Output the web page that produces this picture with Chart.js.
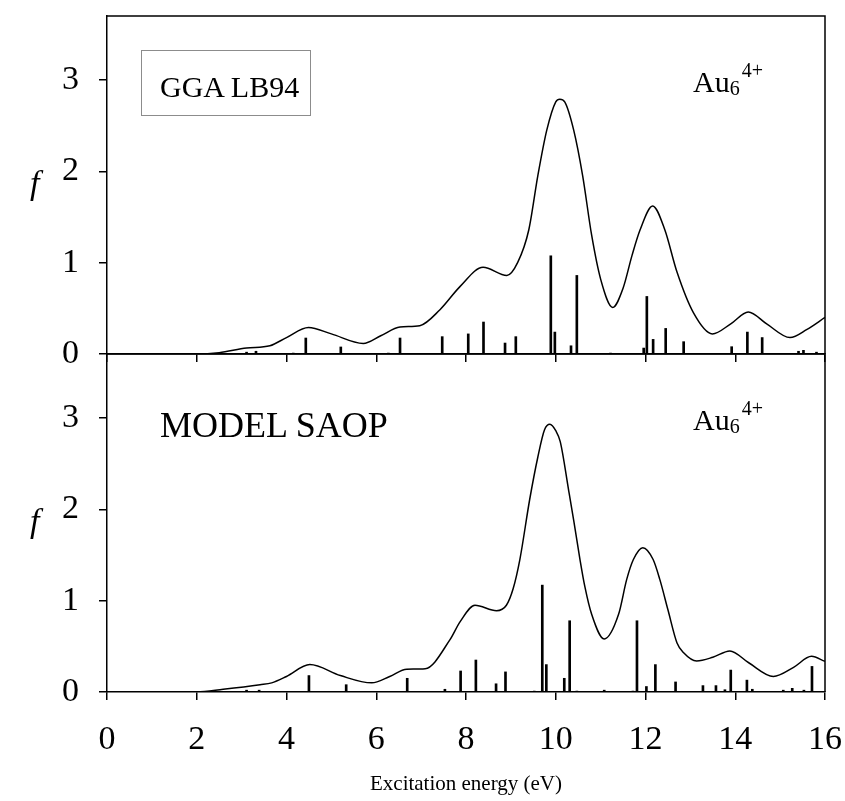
<!DOCTYPE html>
<html>
<head>
<meta charset="utf-8">
<script src="https://cdn.jsdelivr.net/npm/chart.js@4.4.0/dist/chart.umd.min.js"></script>
<style>
body { margin: 0; background: #fff; }
#wrap { position: relative; width: 845px; height: 801px; font-family: "Liberation Serif", "Times New Roman", serif; color: #000; }
canvas { position: absolute; left: 0; top: 0; }
.lbl { position: absolute; white-space: nowrap; line-height: 1; }
.box { position: absolute; border: 1px solid #8c8c8c; }
.fy { font-style: italic; font-size: 34px; }
.au { font-size: 30px; }
.au .sub { font-size: 20px; position: relative; top: 3px; }
.au .sup { font-size: 20px; position: relative; top: -15px; margin-left: 2px; }
</style>
</head>
<body>
<div id="wrap">
  <canvas id="botChart" width="845" height="801"></canvas>
  <canvas id="topChart" width="845" height="372"></canvas>

  <div class="box" style="left:141px; top:50px; width:168px; height:64px;"></div>
  <div class="lbl" style="left:160px; top:72px; font-size:30px;">GGA LB94</div>
  <div class="lbl au" style="left:693px; top:67px;">Au<span class="sub">6</span><span class="sup">4+</span></div>
  <div class="lbl fy" style="left:30px; top:166px;">f</div>

  <div class="lbl" style="left:160px; top:407px; font-size:36px;">MODEL SAOP</div>
  <div class="lbl au" style="left:693px; top:405px;">Au<span class="sub">6</span><span class="sup">4+</span></div>
  <div class="lbl fy" style="left:30px; top:504px;">f</div>
</div>

<script>
// tick labels
const xTicks = [0, 2, 4, 6, 8, 10, 12, 14, 16];
const yTicks = [0, 1, 2, 3];

// GGA LB94 - broadened spectrum
const energyTop = [0, 1, 2, 2.5, 3.11, 3.63, 4.0, 4.49, 5.0, 5.71, 6.1, 6.53, 6.97, 7.42, 7.87, 8.38, 8.91, 9.15,
  9.4, 9.6, 9.8, 10.0, 10.09, 10.2, 10.4, 10.6, 10.8, 11.0, 11.27, 11.5, 11.7, 11.88, 12.16, 12.43, 12.7,
  13.07, 13.49, 13.9, 14.29, 14.7, 15.22, 15.6, 16];
const fTop = [0, 0, 0, 0.015, 0.065, 0.09, 0.18, 0.29, 0.22, 0.116, 0.2, 0.295, 0.31, 0.485, 0.74, 0.95, 0.86, 1.0,
  1.36, 1.95, 2.45, 2.76, 2.79, 2.76, 2.45, 1.95, 1.3, 0.82, 0.51, 0.72, 1.08, 1.36, 1.62, 1.36, 0.9,
  0.45, 0.22, 0.33, 0.46, 0.33, 0.18, 0.27, 0.40];

// GGA LB94 - oscillator strengths
const stickTopE = [3.11, 3.32, 4.15, 4.43, 5.21, 6.27, 6.53, 7.47, 8.05, 8.39, 8.87, 9.11, 9.89, 9.98, 10.34, 10.47,
  11.22, 11.96, 12.03, 12.17, 12.45, 12.85, 13.92, 14.27, 14.60, 15.41, 15.52, 15.81];
const stickTopF = [0.02, 0.03, 0.01, 0.175, 0.077, 0.01, 0.175, 0.19, 0.22, 0.35, 0.12, 0.19, 1.075, 0.24, 0.09, 0.86,
  0.01, 0.065, 0.63, 0.16, 0.28, 0.135, 0.08, 0.24, 0.18, 0.03, 0.04, 0.02];

// MODEL SAOP - broadened spectrum
const energyBot = [0, 1, 2, 2.59, 3.41, 3.67, 4.0, 4.52, 5.2, 5.9, 6.3, 6.68, 7.09, 7.64, 7.87, 8.2, 8.68, 8.9,
  9.05, 9.2, 9.42, 9.6, 9.75, 9.87, 10.0, 10.1, 10.29, 10.4, 10.54, 10.65, 10.8, 11.08, 11.4, 11.58, 11.73, 11.94,
  12.17, 12.32, 12.5, 12.7, 12.85, 13.14, 13.5, 13.88, 14.3, 14.85, 15.3, 15.7, 16];
const fBot = [0, 0, 0, 0.03, 0.08, 0.10, 0.17, 0.30, 0.18, 0.10, 0.17, 0.25, 0.255, 0.57, 0.77, 0.95, 0.89, 0.95,
  1.13, 1.45, 2.11, 2.57, 2.87, 2.93, 2.86, 2.74, 2.2, 1.88, 1.45, 1.15, 0.85, 0.58, 0.85, 1.23, 1.45, 1.58,
  1.45, 1.23, 0.9, 0.54, 0.43, 0.34, 0.38, 0.45, 0.32, 0.17, 0.27, 0.39, 0.335];

// MODEL SAOP - oscillator strengths
const stickBotE = [3.11, 3.39, 4.50, 5.33, 6.69, 7.53, 7.88, 8.22, 8.67, 8.88, 9.52, 9.70, 9.79, 10.19, 10.31, 10.47,
  11.08, 11.72, 11.81, 12.02, 12.22, 12.67, 13.28, 13.57, 13.77, 13.90, 14.26, 14.38, 15.07, 15.27, 15.53, 15.71];
const stickBotF = [0.02, 0.02, 0.18, 0.08, 0.15, 0.03, 0.23, 0.35, 0.09, 0.22, 0.01, 1.17, 0.30, 0.15, 0.78, 0.01,
  0.02, 0.01, 0.78, 0.06, 0.30, 0.11, 0.07, 0.07, 0.025, 0.24, 0.13, 0.03, 0.02, 0.04, 0.02, 0.28];

const FONT = '"Liberation Serif", "Times New Roman", serif';

function toPoints(xs, ys) {
    return xs.map((x, i) => ({ x: x, y: ys[i] }));
}

// top and right frame lines
const framePlugin = {
    id: 'frame',
    afterDraw(chart) {
        const a = chart.chartArea;
        const ctx = chart.ctx;
        ctx.save();
        ctx.strokeStyle = '#000';
        ctx.lineWidth = 1.5;
        ctx.beginPath();
        ctx.moveTo(a.left, a.top);
        ctx.lineTo(a.right, a.top);
        ctx.lineTo(a.right, a.bottom);
        ctx.stroke();
        ctx.restore();
    }
};

function makePanel(id, energy, f, stickE, stickF, isBottom) {
    const gridOpts = { offset: false, drawOnChartArea: false, drawTicks: true, tickLength: 8, color: '#000', lineWidth: 1.5 };
    new Chart(document.getElementById(id), {
        type: 'bar',
        data: {
            datasets: [{
                type: 'line',
                data: toPoints(energy, f),
                borderColor: '#000',
                borderWidth: 1.5,
                pointRadius: 0,
                cubicInterpolationMode: 'monotone',
                fill: false
            }, {
                type: 'bar',
                data: toPoints(stickE, stickF),
                backgroundColor: '#000',
                borderWidth: 0,
                barThickness: 2
            }]
        },
        options: {
            responsive: false,
            animation: false,
            layout: { padding: { top: isBottom ? 354 : 16, right: 20, left: 0, bottom: 0 } },
            plugins: { legend: { display: false }, tooltip: { enabled: false } },
            scales: {
                x: {
                    type: 'linear',
                    min: 0,
                    max: 16,
                    offset: false,
                    grid: gridOpts,
                    border: { color: '#000', width: 1.5 },
                    afterBuildTicks: s => { s.ticks = xTicks.map(v => ({ value: v })); },
                    afterFit: s => {
                        s.height = isBottom ? 109 : 18;
                        s.paddingLeft = 0;
                        s.paddingRight = 0;
                    },
                    ticks: {
                        display: isBottom,
                        color: '#000',
                        padding: 20,
                        maxRotation: 0,
                        font: { family: FONT, size: 34 }
                    },
                    title: {
                        display: isBottom,
                        text: 'Excitation energy (eV)',
                        color: '#000',
                        font: { family: FONT, size: 21 },
                        padding: { top: 0, bottom: 4 }
                    }
                },
                y: {
                    min: 0,
                    max: 3.7,
                    grid: gridOpts,
                    border: { color: '#000', width: 1.5 },
                    afterBuildTicks: s => { s.ticks = yTicks.map(v => ({ value: v })); },
                    afterFit: s => {
                        s.width = 107;
                        s.paddingTop = 0;
                        s.paddingBottom = 0;
                    },
                    ticks: {
                        color: '#000',
                        padding: 20,
                        font: { family: FONT, size: 34 }
                    }
                }
            }
        },
        plugins: [framePlugin]
    });
}

makePanel('topChart', energyTop, fTop, stickTopE, stickTopF, false);
makePanel('botChart', energyBot, fBot, stickBotE, stickBotF, true);
</script>
</body>
</html>
